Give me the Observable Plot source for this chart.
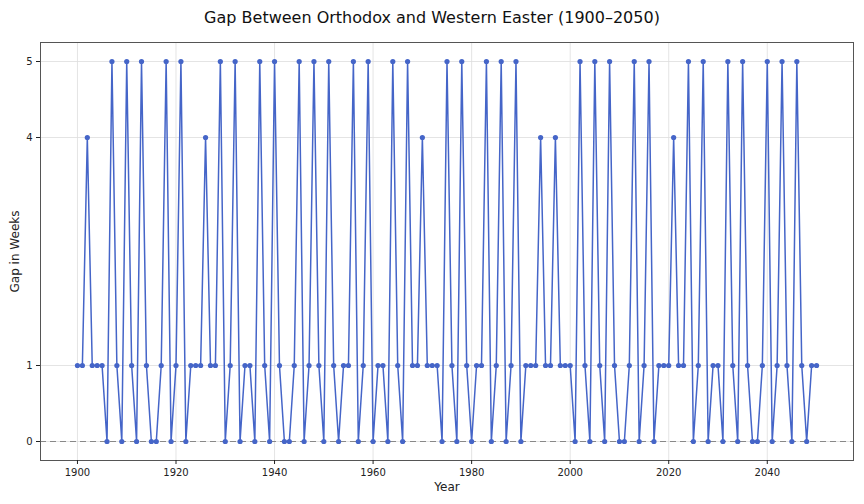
<!DOCTYPE html>
<html>
<head>
<meta charset="utf-8">
<script src="https://cdn.jsdelivr.net/npm/d3@7"></script>
<script src="https://cdn.jsdelivr.net/npm/@observablehq/plot@0.6"></script>
<style>
  body { margin: 0; background: #fff; font-family: "DejaVu Sans", sans-serif; }
  #title { height: 36px; line-height: 36px; text-align: center; font-size: 16px; color: #111; width: 864px; }
</style>
</head>
<body>
<div id="title">Gap Between Orthodox and Western Easter (1900–2050)</div>
<div id="chart"></div>
<script>
const startYear = 1900;
const gapWeeks = [
  1,1,4,1,1,1,0,5,1,0, 5,1,0,5,1,0,0,1,5,0,   // 1900-1919
  1,5,0,1,1,1,4,1,1,5, 0,1,5,0,1,1,0,5,1,0,   // 1920-1939
  5,1,0,0,1,5,0,1,5,1, 0,5,1,0,1,1,5,0,1,5,   // 1940-1959
  0,1,1,0,5,1,0,5,1,1, 4,1,1,1,0,5,1,0,5,1,   // 1960-1979
  0,1,1,5,0,1,5,0,1,5, 0,1,1,1,4,1,1,4,1,1,   // 1980-1999
  1,0,5,1,0,5,1,0,5,1, 0,0,1,5,0,1,5,0,1,1,   // 2000-2019
  1,4,1,1,5,0,1,5,0,1, 1,0,5,1,0,5,1,0,0,1,   // 2020-2039
  5,0,1,5,1,0,5,1,0,1, 1                       // 2040-2050
];
const xTicks = [1900, 1920, 1940, 1960, 1980, 2000, 2020, 2040];
const yTicks = [0, 1, 4, 5];

const data = gapWeeks.map((g, i) => ({year: startYear + i, gap: g}));
const color = "#4565c8";

const chart = Plot.plot({
  width: 864,
  height: 468,
  marginTop: 6,
  marginBottom: 44,
  marginLeft: 40,
  marginRight: 11,
  style: {fontFamily: "DejaVu Sans, sans-serif", fontSize: "10px", color: "#222", background: "#fff"},
  x: {domain: [1892.5, 2057.5]},
  y: {domain: [-0.25, 5.25]},
  marks: [
    Plot.gridX(xTicks, {stroke: "#ddd", strokeOpacity: 0.8}),
    Plot.gridY(yTicks, {stroke: "#ddd", strokeOpacity: 0.8}),
    Plot.ruleY([0], {stroke: "#888", strokeDasharray: "6,4", strokeWidth: 1.2}),
    Plot.line(data, {x: "year", y: "gap", stroke: color, strokeWidth: 1.5}),
    Plot.dot(data, {x: "year", y: "gap", r: 2.6, fill: color, stroke: "none"}),
    Plot.frame({stroke: "#555"}),
    Plot.axisX(xTicks, {tickFormat: "d", tickSize: 4, tickPadding: 4, fontSize: 10, label: "Year", labelAnchor: "center", labelArrow: "none", labelOffset: 30}),
    Plot.axisY(yTicks, {tickFormat: "d", tickSize: 4, tickPadding: 4, fontSize: 10, label: "Gap in Weeks", labelAnchor: "center", labelArrow: "none", labelOffset: 30})
  ]
});
document.getElementById("chart").appendChild(chart);
chart.querySelectorAll("g[aria-label='x-axis label'] text, g[aria-label='y-axis label'] text").forEach(t => t.setAttribute("font-size", "12"));
</script>
</body>
</html>
